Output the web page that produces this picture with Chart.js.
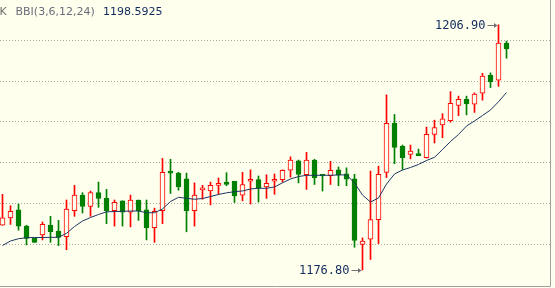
<!DOCTYPE html>
<html>
<head>
<meta charset="utf-8">
<script src="https://cdn.jsdelivr.net/npm/chart.js@4.4.1/dist/chart.umd.min.js"></script>
<style>
  html, body { margin: 0; padding: 0; background: #ffffee; }
  #wrap { width: 555px; height: 288px; }
</style>
</head>
<body>
<div id="wrap"><canvas id="kline" width="555" height="288"></canvas></div>
<script>
document.addEventListener("DOMContentLoaded", () => {

// ─── Dados ───────────────────────────────────────────────────────────────────

const opens = [1182.3, 1183.2, 1184.2, 1182.2, 1180.7, 1181.1, 1182.3, 1181.6, 1180.9, 1184.1,
  1186.0, 1184.6, 1186.3, 1185.6, 1184.1, 1185.3, 1183.9, 1185.4, 1184.2, 1182.0,
  1184.1, 1188.8, 1188.7, 1188.0, 1184.1, 1186.65, 1186.5, 1187.2, 1187.6, 1187.7,
  1186.0, 1187.7, 1187.9, 1187.0, 1187.7, 1187.9, 1189.05, 1190.2, 1188.5, 1190.3,
  1188.5, 1188.4, 1189.1, 1188.6, 1188.0, 1179.95, 1180.6, 1183.0, 1188.8, 1194.8,
  1192.0, 1191.0, 1191.05, 1190.6, 1193.45, 1194.6, 1195.15, 1197.0, 1197.75, 1197.15,
  1198.5, 1200.7, 1200.1, 1204.65];

const highs = [1186.1, 1184.7, 1184.9, 1182.3, 1180.7, 1182.7, 1183.4, 1182.9, 1185.4, 1187.2,
  1186.3, 1186.5, 1187.6, 1186.7, 1185.4, 1185.3, 1186.0, 1185.4, 1185.4, 1184.4,
  1190.5, 1190.4, 1188.8, 1188.7, 1187.5, 1187.2, 1187.6, 1188.1, 1188.75, 1187.7,
  1188.8, 1189.1, 1188.35, 1188.5, 1188.6, 1189.1, 1190.7, 1190.3, 1191.25, 1190.4,
  1188.5, 1190.15, 1189.45, 1189.35, 1188.55, 1180.75, 1188.95, 1189.55, 1198.3, 1195.9,
  1192.15, 1192.15, 1191.65, 1194.35, 1195.2, 1196.0, 1198.7, 1198.15, 1198.15, 1198.55,
  1200.95, 1201.0, 1206.9, 1204.9];

const lows = [1182.3, 1182.4, 1181.7, 1179.9, 1180.2, 1180.5, 1180.2, 1179.8, 1179.3, 1183.4,
  1183.8, 1183.4, 1184.5, 1182.5, 1182.2, 1182.2, 1182.1, 1182.9, 1180.5, 1180.2,
  1182.5, 1186.2, 1186.6, 1181.5, 1182.2, 1185.5, 1184.8, 1186.1, 1187.15, 1185.1,
  1185.3, 1184.9, 1185.15, 1185.6, 1186.1, 1187.6, 1188.2, 1187.5, 1186.7, 1187.3,
  1186.5, 1187.3, 1187.15, 1187.15, 1179.6, 1176.8, 1178.1, 1180.05, 1188.15, 1189.85,
  1189.15, 1190.45, 1190.85, 1190.55, 1192.4, 1193.05, 1194.95, 1195.75, 1195.85, 1196.15,
  1197.65, 1199.2, 1199.35, 1202.8];

const closes = [1183.2, 1184.0, 1182.2, 1180.7, 1180.2, 1182.4, 1181.5, 1180.8, 1184.3, 1186.0,
  1184.6, 1186.3, 1185.6, 1184.1, 1185.1, 1183.9, 1185.4, 1184.1, 1182.0, 1184.0,
  1188.8, 1188.7, 1187.0, 1184.1, 1186.0, 1186.75, 1187.2, 1187.45, 1187.3, 1185.9,
  1187.3, 1187.95, 1186.85, 1187.45, 1187.95, 1189.05, 1190.3, 1188.55, 1190.3, 1188.15,
  1188.35, 1189.05, 1188.5, 1187.95, 1180.45, 1180.35, 1183.0, 1188.55, 1194.8, 1191.85,
  1190.6, 1191.4, 1190.85, 1193.45, 1194.3, 1195.35, 1197.25, 1197.75, 1197.2, 1198.4,
  1200.6, 1199.9, 1204.65, 1203.95];

const bbi = [1179.82, 1180.37, 1180.65, 1180.77, 1180.80, 1180.80, 1180.82, 1180.82, 1181.31, 1182.15,
  1182.82, 1183.25, 1183.62, 1183.95, 1183.99, 1184.01, 1184.05, 1184.05, 1183.84, 1183.84,
  1184.30, 1185.22, 1185.73, 1185.61, 1185.49, 1185.58, 1185.83, 1186.08, 1186.28, 1186.42,
  1186.51, 1186.75, 1186.84, 1186.84, 1187.00, 1187.51, 1187.98, 1188.28, 1188.43, 1188.43,
  1188.43, 1188.44, 1188.47, 1188.49, 1187.49, 1186.01, 1185.15, 1185.65, 1187.36, 1188.59,
  1189.08, 1189.39, 1189.76, 1190.25, 1190.64, 1191.60, 1192.58, 1193.44, 1194.48, 1195.10,
  1195.77, 1196.45, 1197.46, 1198.59];

const gridTicks = [1180, 1185, 1190, 1195, 1200, 1205];
const bbiLabel  = "BBI(3,6,12,24)";
const bbiLast   = "1198.5925";

// índice de cada candle (eixo x linear)
const idx = opens.map((_, i) => i);

// ─── Cores ────────────────────────────────────────────────────────────────────

const BG    = "#ffffee";
const UP    = "#ff0000";
const DOWN  = "#008000";
const LINE  = "#1c3562";
const isUp  = idx.map(i => closes[i] >= opens[i]);

// ─── Plugin: bordas, cabeçalho e marcas de máx/mín ───────────────────────────

function drawMark(ctx, x, y, text) {
  ctx.strokeStyle = "#707070";
  ctx.fillStyle   = "#707070";
  ctx.beginPath();
  ctx.moveTo(x - 11, y);
  ctx.lineTo(x - 3, y);
  ctx.stroke();
  ctx.beginPath();
  ctx.moveTo(x - 1, y);
  ctx.lineTo(x - 4.5, y - 2.5);
  ctx.lineTo(x - 4.5, y + 2.5);
  ctx.closePath();
  ctx.fill();

  ctx.font         = '12px "DejaVu Sans Mono"';
  ctx.fillStyle    = "#102a5c";
  ctx.textAlign    = "right";
  ctx.textBaseline = "middle";
  ctx.fillText(text, x - 13, y + 0.5);
}

const overlay = {
  id: "overlay",
  afterDraw(chart) {
    const { ctx, chartArea: a, scales: { x: xs, y: ys } } = chart;
    ctx.save();

    // bordas direita e inferior
    ctx.strokeStyle = "#a0a0a0";
    ctx.lineWidth   = 1;
    ctx.beginPath();
    ctx.moveTo(Math.round(a.right) + 0.5, 0);
    ctx.lineTo(Math.round(a.right) + 0.5, Math.round(a.bottom) + 0.5);
    ctx.lineTo(0, Math.round(a.bottom) + 0.5);
    ctx.stroke();

    // cabeçalho
    ctx.font         = '11px "DejaVu Sans"';
    ctx.textAlign    = "left";
    ctx.textBaseline = "alphabetic";
    ctx.fillStyle    = "#6e6e6e";
    ctx.fillText("K", -0.5, 15);
    ctx.fillStyle    = "#6c6c7c";
    ctx.fillText(bbiLabel, 15.5, 15);
    ctx.fillStyle    = "#102a5c";
    ctx.fillText(bbiLast, 103, 15);

    // máxima e mínima
    const iMax = highs.indexOf(Math.max(...highs));
    const iMin = lows.indexOf(Math.min(...lows));
    drawMark(ctx, xs.getPixelForValue(iMax), Math.round(ys.getPixelForValue(highs[iMax])) + 0.5, highs[iMax].toFixed(2));
    drawMark(ctx, xs.getPixelForValue(iMin), Math.round(ys.getPixelForValue(lows[iMin])) + 0.5, lows[iMin].toFixed(2));

    ctx.restore();
  }
};

// ─── Gráfico (candles como barras flutuantes + linha BBI) ────────────────────

new Chart(document.getElementById("kline"), {
  data: {
    datasets: [
      {
        type: "line",
        data: idx.map(i => ({ x: i, y: bbi[i] })),
        borderColor: LINE,
        borderWidth: 1,
        pointRadius: 0,
        tension: 0,
        order: 1,
      },
      {
        type: "bar",
        data: idx.map(i => ({ x: i, y: [opens[i], closes[i]] })),
        backgroundColor: idx.map(i => isUp[i] ? BG : DOWN),
        borderColor: idx.map(i => isUp[i] ? UP : DOWN),
        borderWidth: 1,
        borderSkipped: false,
        barThickness: 5,
        minBarLength: 2,
        grouped: false,
        order: 2,
      },
      {
        type: "bar",
        data: idx.map(i => ({ x: i, y: [lows[i], highs[i]] })),
        backgroundColor: idx.map(i => isUp[i] ? UP : DOWN),
        borderWidth: 0,
        barThickness: 1,
        grouped: false,
        order: 3,
      },
    ]
  },
  options: {
    responsive: false,
    animation: false,
    layout: { padding: { left: 0, top: 0, right: 5, bottom: 2 } },
    plugins: {
      legend: { display: false },
      tooltip: { enabled: false },
    },
    scales: {
      x: {
        type: "linear",
        min: -0.3125,
        max: 68.4375,
        offset: false,
        display: false,
      },
      y: {
        min: 1174.846,
        max: 1209.946,
        afterBuildTicks: s => { s.ticks = gridTicks.map(v => ({ value: v })); },
        ticks: { display: false },
        grid: { color: "#a8a8a8", drawTicks: false, lineWidth: 1 },
        border: { display: false, dash: [1, 2] },
      }
    }
  },
  plugins: [overlay]
});

}); // DOMContentLoaded
</script>
</body>
</html>
